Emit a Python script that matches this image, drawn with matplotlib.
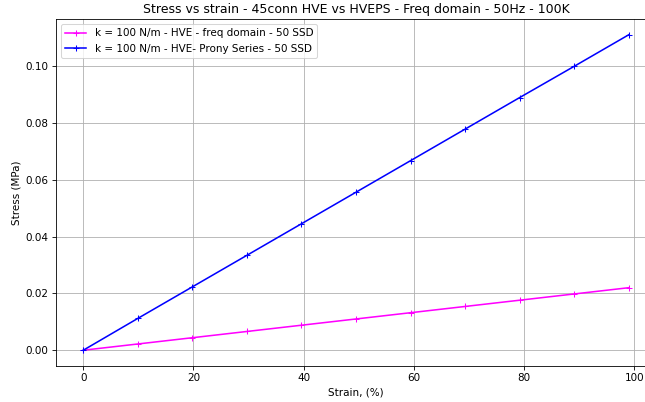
import matplotlib
matplotlib.use("Agg")
import matplotlib.pyplot as plt

strain = [0, 9.9, 19.8, 29.7, 39.6, 49.5, 59.4, 69.3, 79.2, 89.1, 99.0]
stress_freq = [0.0, 0.0022, 0.0044, 0.0066, 0.0088, 0.0110, 0.0132, 0.0154, 0.0176, 0.0198, 0.0220]
stress_prony = [0.0, 0.0112, 0.0223, 0.0334, 0.0445, 0.0556, 0.0667, 0.0778, 0.0889, 0.0999, 0.1110]

DPI = 75
fig = plt.figure(figsize=(645 / DPI, 402 / DPI), dpi=DPI)
# axes runs past the right edge, as in the cropped original
ax = fig.add_axes([56 / 645, 36 / 402, 600 / 645, 347 / 402])

ax.plot(strain, stress_freq, color="magenta", marker="+",
        label="k = 100 N/m - HVE - freq domain - 50 SSD")
ax.plot(strain, stress_prony, color="blue", marker="+",
        label="k = 100 N/m - HVE- Prony Series - 50 SSD")

ax.set_title("Stress vs strain - 45conn HVE vs HVEPS - Freq domain - 50Hz - 100K")
ax.set_xlabel("Strain, (%)")
ax.set_ylabel("Stress (MPa)")
ax.grid(True)
ax.legend(loc="upper left")

fig.savefig("out.png", dpi=DPI)
